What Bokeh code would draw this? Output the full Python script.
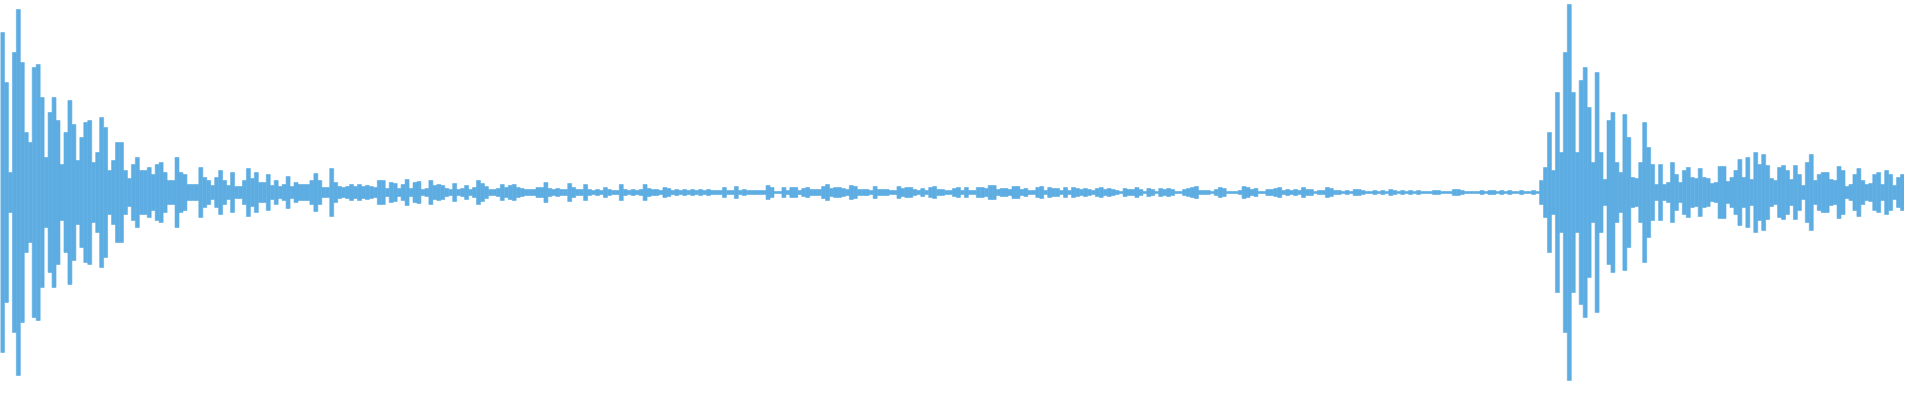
import numpy as np
from bokeh.plotting import figure
from bokeh.models import Range1d, ColumnDataSource
from bokeh.embed import file_html
from bokeh.resources import INLINE

# Peak level of the waveform per 4-sample bucket (full scale = 200)
levels_a = [160, 110, 20, 140, 183, 130, 60, 50, 125, 128,
            95, 35, 80, 95, 72, 28, 60, 92, 68, 32,
            55, 70, 72, 30, 40, 75, 65, 22, 32, 50,
            50, 22, 14, 28, 35, 22, 22, 25, 18, 28,
            30, 20, 12, 12, 35, 20, 18, 8, 8, 8]
levels_b = [25, 15, 12, 7, 15, 22, 12, 7, 20, 6,
            6, 12, 24, 14, 20, 10, 10, 18, 7, 12,
            6, 8, 16, 6, 10, 8, 8, 8, 12, 19,
            12, 5, 5, 24, 10, 6, 5, 6, 8, 6,
            8, 6, 7, 6, 5, 12, 12, 4, 10, 9]
levels_c = [4, 8, 13, 4, 10, 11, 3, 4, 12, 7,
            8, 7, 4, 3, 9, 3, 4, 7, 3, 5,
            12, 9, 6, 3, 3, 4, 8, 5, 7, 8,
            5, 4, 3, 3, 3, 5, 5, 10, 4, 3,
            4, 3, 3, 9, 5, 3, 3, 8, 3, 2,
            3, 2, 5, 3, 2, 2, 8, 3, 2, 3,
            2, 3, 8, 4, 3, 3, 2, 5, 4, 2,
            3, 2, 3, 2, 3]
levels_d = [2, 3, 2, 3, 2, 2, 2, 5, 2, 2,
            6, 2, 3, 2, 2, 2, 2, 2, 7, 5,
            1, 1, 5, 2, 5, 5, 2, 4, 5, 3,
            3, 3, 6, 8, 4, 5, 5, 4, 3, 7,
            6, 3, 3, 3, 2, 6, 3, 3, 3, 2,
            2, 6, 4, 5, 5, 3, 2, 4, 2, 5,
            6, 3, 3, 2, 2, 4, 5, 2, 5, 2,
            2, 5, 5, 4, 7]
levels_e = [7, 3, 4, 4, 3, 6, 6, 3, 4, 2,
            2, 5, 6, 2, 5, 4, 4, 2, 5, 2,
            5, 4, 3, 4, 3, 2, 4, 5, 3, 4,
            3, 2, 1, 4, 3, 3, 5, 3, 1, 4,
            3, 1, 4, 3, 4, 3, 1, 1, 3, 4,
            5, 6, 2, 2, 2, 1, 3, 5, 4, 1,
            1, 1, 2, 6, 5, 3, 4, 1, 1, 3,
            3, 4, 5, 2, 3]
levels_f = [2, 3, 2, 5, 3, 3, 1, 2, 2, 5,
            4, 2, 2, 1, 2, 1, 3, 3, 2, 1,
            1, 2, 1, 2, 1, 3, 2, 1, 2, 1,
            2, 1, 2, 1, 1, 1, 2, 2, 1, 1,
            1, 3, 3, 2, 1, 1, 1, 1, 2, 1,
            2, 2, 1, 2, 1, 2, 1, 1, 2, 1,
            1, 2, 1]
levels_g = [12, 25, 60, 22, 100, 40, 140, 188, 100, 40,
            112, 125, 85, 30, 120, 40, 13, 72, 80, 30,
            20, 78, 55, 15, 14, 30, 70, 45, 28, 8,
            28, 8, 10, 30, 18, 10, 22, 25, 15, 14,
            24, 15]
levels_h = [14, 9, 10, 26, 26, 11, 15, 22, 33, 15,
            35, 13, 40, 28, 38, 27, 14, 12, 25, 27,
            22, 13, 27, 18, 7, 30, 38, 12, 18, 20,
            20, 13, 12, 26, 22, 6, 8, 18, 24, 12,
            8, 9, 18, 20, 8, 22, 18, 7, 15, 18]

BUCKET = 4
levels = np.array(levels_a + levels_b + levels_c + levels_d +
                  levels_e + levels_f + levels_g + levels_h, dtype=float)
x = np.arange(len(levels)) * BUCKET + BUCKET / 2.0

src = ColumnDataSource(dict(x=x, top=levels, bottom=-levels))

COLOR = "#5dade2"
p = figure(width=1904, height=384, output_backend="svg", toolbar_location=None,
           x_range=Range1d(0, len(levels) * BUCKET), y_range=Range1d(-192, 192),
           min_border=0, min_border_left=0, min_border_right=0,
           min_border_top=0, min_border_bottom=0)
p.vbar(x="x", width=BUCKET, top="top", bottom="bottom", source=src,
       fill_color=COLOR, line_color=COLOR, line_width=0.6)
p.axis.visible = False
p.xgrid.visible = False
p.ygrid.visible = False
p.outline_line_color = None
p.background_fill_color = "white"
p.border_fill_color = "white"

open("out.html", "w").write(file_html(p, INLINE))
